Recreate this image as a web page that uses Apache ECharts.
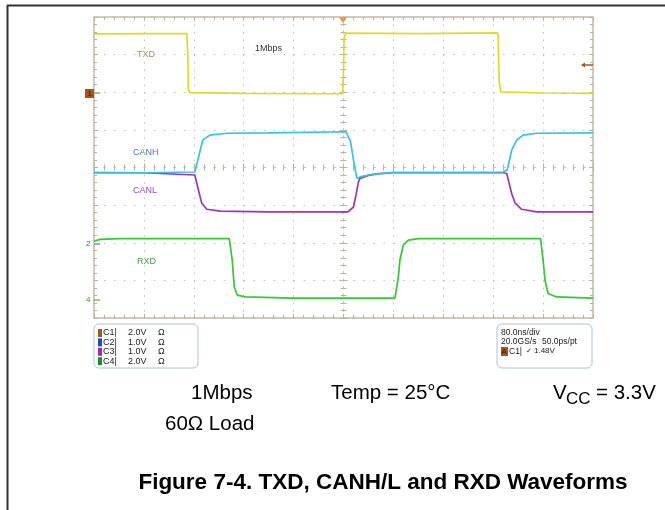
<!DOCTYPE html>
<html>
<head>
<meta charset="utf-8">
<script src="https://cdn.jsdelivr.net/npm/echarts/dist/echarts.min.js"></script>
<style>
  html, body { margin: 0; padding: 0; background: #fff; }
  #chart { width: 665px; height: 510px; }
</style>
</head>
<body>
<div id="chart"></div>
<script>
// time in divisions (80 ns/div), level in divisions from the bottom of the screen
var txd = [
  [0, 7.55], [1.0, 7.56], [1.86, 7.56], [1.88, 7.0], [1.89, 6.1], [1.92, 5.99],
  [3.0, 5.97], [4.98, 5.96], [5.0, 6.5], [5.01, 7.4], [5.04, 7.57],
  [6.5, 7.56], [8.08, 7.58], [8.10, 7.5], [8.12, 6.3], [8.15, 6.01], [9.0, 5.98], [10, 5.97]
]
var canh = [
  [0, 3.87], [1.0, 3.86], [2.02, 3.88], [2.10, 4.3], [2.18, 4.73], [2.32, 4.86], [2.67, 4.91],
  [3.5, 4.92], [5.05, 4.95], [5.09, 5.0], [5.14, 4.7], [5.2, 4.2], [5.24, 3.9], [5.27, 3.71],
  [5.33, 3.75], [5.5, 3.80], [5.67, 3.83], [5.99, 3.87], [7.0, 3.87], [8.2, 3.88],
  [8.28, 3.93], [8.37, 4.46], [8.47, 4.73], [8.60, 4.86], [8.87, 4.91], [10, 4.92]
]
var canl = [
  [0, 3.86], [1.0, 3.86], [2.02, 3.80], [2.11, 3.31], [2.16, 3.05], [2.26, 2.89], [2.53, 2.84],
  [3.5, 2.82], [5.09, 2.82], [5.20, 2.95], [5.25, 3.27], [5.30, 3.62], [5.33, 3.71],
  [5.5, 3.79], [5.67, 3.83], [5.99, 3.86], [7.0, 3.86], [8.2, 3.86], [8.27, 3.84],
  [8.37, 3.31], [8.44, 3.05], [8.57, 2.89], [8.87, 2.82], [10, 2.82]
]
var rxd = [
  [0, 2.04], [0.12, 2.09], [0.5, 2.11], [2.71, 2.11], [2.77, 1.54], [2.81, 0.83], [2.87, 0.61],
  [3.03, 0.56], [4.0, 0.53], [6.03, 0.53], [6.10, 1.09], [6.13, 1.54], [6.20, 1.94], [6.30, 2.07],
  [6.5, 2.11], [8.95, 2.11], [9.00, 1.54], [9.04, 0.99], [9.10, 0.65], [9.27, 0.56], [10, 0.53]
]
var traceNames = ['TXD', 'CANH', 'CANL', 'RXD']
var traceColors = ['#e0da26', '#34c4e2', '#a232b6', '#34c834']
var chanRows = [['C1|', '2.0V', 'Ω'], ['C2|', '1.0V', 'Ω'], ['C3|', '1.0V', 'Ω'], ['C4|', '2.0V', 'Ω']]
var chanColors = ['#a4561a', '#1c4cc4', '#a424b4', '#1c8c2c']
var timeInfo = ['80.0ns/div', '20.0GS/s', '50.0ps/pt', 'C1|', '1.48V']

var chart = echarts.init(document.getElementById('chart'))

var gridL = 94, gridT = 17, gridW = 499, gridH = 301
var tickCol = '#b9b29e'

function xAx(pos, offset, inside, split) {
  return {
    type: 'value', min: 0, max: 10, interval: 1, position: pos, offset: offset,
    axisLabel: { show: false },
    axisLine: { show: offset !== 0, onZero: false, lineStyle: { color: '#c4c4c4', type: [1.5, 8.5] } },
    axisTick: { show: true, inside: inside, length: 4, lineStyle: { color: tickCol } },
    minorTick: { show: true, splitNumber: 5, length: 3, lineStyle: { color: tickCol } },
    splitLine: { show: split, lineStyle: { color: '#bdbdbd', type: [1.5, 6.02] } }
  }
}
function yAx(pos, offset, inside, split) {
  return {
    type: 'value', min: 0, max: 8, interval: 1, position: pos, offset: offset,
    axisLabel: { show: false },
    axisLine: { show: offset !== 0, onZero: false, lineStyle: { color: '#c4c4c4', type: [1.5, 6.02] } },
    axisTick: { show: true, inside: inside, length: 4, lineStyle: { color: tickCol } },
    minorTick: { show: true, splitNumber: 5, length: 3, lineStyle: { color: tickCol } },
    splitLine: { show: split, lineStyle: { color: '#bdbdbd', type: [1.5, 8.48] } }
  }
}

function label(txt, x, y, col, size) {
  return { type: 'text', x: x, y: y, silent: true,
    style: { text: txt, fill: col, font: (size || 9) + 'px "Liberation Sans", Arial', verticalAlign: 'middle' } }
}

var graphics = [
  // outer figure frame
  { type: 'line', shape: { x1: 7, y1: 5.5, x2: 665, y2: 5.5 }, style: { stroke: '#333', lineWidth: 2 } },
  { type: 'line', shape: { x1: 7.5, y1: 5, x2: 7.5, y2: 510 }, style: { stroke: '#333', lineWidth: 2 } },
  // channel names on screen
  label('TXD', 137, 55, '#b08a56'),
  label('1Mbps', 255, 49, '#333'),
  label('CANH', 133, 153, '#4a78c4'),
  label('CANL', 133, 191, '#a448b4'),
  label('RXD', 137, 262, '#44a044'),
  // ground markers
  { type: 'rect', shape: { x: 85, y: 89, width: 9, height: 9 }, style: { fill: '#a4561a' } },
  label('1', 87.5, 93.5, '#3a1a00', 8),
  { type: 'line', shape: { x1: 94, y1: 93, x2: 100, y2: 93 }, style: { stroke: '#a4561a', lineWidth: 1 } },
  label('2', 86, 244, '#2c5cc4', 8),
  { type: 'line', shape: { x1: 94, y1: 244, x2: 100, y2: 244 }, style: { stroke: '#2c5cc4', lineWidth: 1 } },
  label('4', 86, 300, '#2c9c34', 8),
  { type: 'line', shape: { x1: 94, y1: 300, x2: 100, y2: 300 }, style: { stroke: '#2c9c34', lineWidth: 1 } },
  // trigger position and level
  { type: 'polygon', shape: { points: [[339, 17], [347, 17], [343, 23]] }, style: { fill: '#f08a28' } },
  { type: 'line', shape: { x1: 582, y1: 65, x2: 593, y2: 65 }, style: { stroke: '#a4561a', lineWidth: 1.5 } },
  { type: 'polygon', shape: { points: [[581, 65], [585, 62.5], [585, 67.5]] }, style: { fill: '#a4561a' } },
  // channel settings box
  { type: 'rect', shape: { x: 94, y: 324, width: 104, height: 44, r: 5 }, style: { fill: '#fff', stroke: '#a9c4dc', lineWidth: 1 } },
  // timebase box
  { type: 'rect', shape: { x: 497, y: 324, width: 95, height: 44, r: 5 }, style: { fill: '#fff', stroke: '#a9c4dc', lineWidth: 1 } },
  label(timeInfo[0], 501, 333, '#222', 8.5),
  label(timeInfo[1], 501, 342, '#222', 8.5),
  label(timeInfo[2], 542, 342, '#222', 8.5),
  { type: 'rect', shape: { x: 501, y: 347, width: 7, height: 9 }, style: { fill: '#a4561a' } },
  label('A', 501.5, 352, '#3a1a00', 8),
  label(timeInfo[3], 509, 352, '#222', 8.5),
  label('✓', 526, 351, '#222', 7),
  label(timeInfo[4], 534, 350.5, '#222', 8),
  // test conditions
  label('1Mbps', 191, 393, '#000', 20.5),
  label('Temp = 25°C', 331, 393, '#000', 20.5),
  label('V', 553, 393, '#000', 20.5),
  label('CC', 566, 399, '#000', 17),
  label('= 3.3V', 596, 393, '#000', 20.5),
  label('60Ω Load', 165, 424, '#000', 20.5),
  { type: 'text', x: 383, y: 483, silent: true,
    style: { text: 'Figure 7-4. TXD, CANH/L and RXD Waveforms', fill: '#000',
      font: 'bold 22.5px "Liberation Sans", Arial', align: 'center', verticalAlign: 'middle' } }
]
chanRows.forEach(function (r, i) {
  var y = 333 + i * 9.4
  graphics.push({ type: 'rect', shape: { x: 98, y: y - 4, width: 4, height: 8 }, style: { fill: chanColors[i] } })
  graphics.push(label(r[0], 103, y, '#222'))
  graphics.push(label(r[1], 128, y, '#222'))
  graphics.push(label(r[2], 158, y, '#222'))
})

var traces = [rxd, canl, canh, txd]
var order = [3, 2, 1, 0]

var option = {
  animation: false,
  backgroundColor: '#fff',
  grid: { left: gridL, top: gridT, width: gridW, height: gridH, show: true,
    borderColor: '#c2bba6', borderWidth: 1.5, backgroundColor: '#fff' },
  xAxis: [
    xAx('bottom', 0, true, true),
    xAx('top', 0, true, false),
    xAx('bottom', -gridH / 2, false, false),
    xAx('bottom', -gridH / 2, true, false)
  ],
  yAxis: [
    yAx('left', 0, true, true),
    yAx('right', 0, true, false),
    yAx('left', -gridW / 2, false, false),
    yAx('left', -gridW / 2, true, false)
  ],
  series: traces.map(function (d, i) {
    return {
      name: traceNames[order[i]], type: 'line', data: d, showSymbol: false,
      xAxisIndex: 0, yAxisIndex: 0, z: 3 + i,
      lineStyle: { color: traceColors[order[i]], width: 1.7 }
    }
  }),
  graphic: graphics
}
chart.setOption(option)
</script>
</body>
</html>
